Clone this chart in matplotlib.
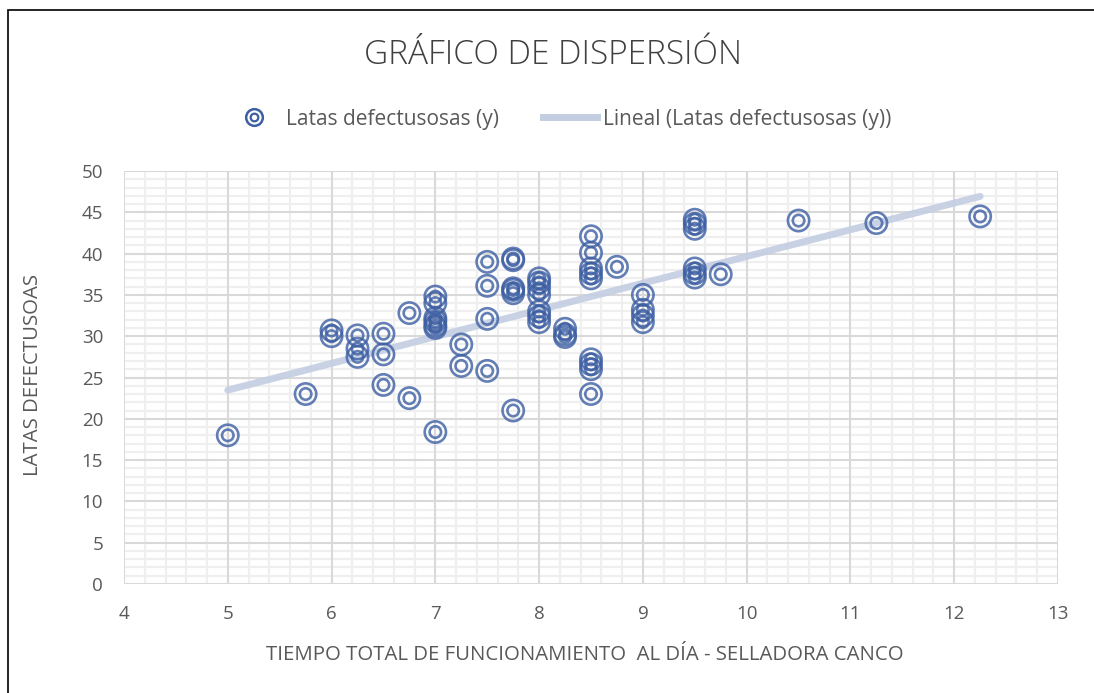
import numpy as np
import matplotlib
matplotlib.use("Agg")
import matplotlib.pyplot as plt
from matplotlib.lines import Line2D
from matplotlib.patches import Rectangle

# Data
tiempo = [5.0, 5.75, 6.0, 6.0, 6.25, 6.25, 6.25, 6.5, 6.5, 6.5, 6.75, 6.75,
          7.0, 7.0, 7.0, 7.0, 7.0, 7.0, 7.0, 7.25, 7.25,
          7.5, 7.5, 7.5, 7.5, 7.75, 7.75, 7.75, 7.75, 7.75, 7.75,
          8.0, 8.0, 8.0, 8.0, 8.0, 8.0, 8.0, 8.25, 8.25, 8.25,
          8.5, 8.5, 8.5, 8.5, 8.5, 8.5, 8.5, 8.5, 8.5, 8.75,
          9.0, 9.0, 9.0, 9.0, 9.5, 9.5, 9.5, 9.5, 9.5, 9.5, 9.75,
          10.5, 11.25, 12.25]
latas = [18.0, 23.0, 30.7, 30.0, 30.1, 28.5, 27.5, 30.3, 27.8, 24.1, 32.8, 22.5,
         34.8, 34.0, 32.2, 31.8, 31.3, 31.0, 18.4, 29.0, 26.4,
         39.0, 36.1, 32.1, 25.8, 39.4, 39.2, 35.8, 35.6, 35.2, 21.0,
         37.0, 36.5, 35.8, 35.0, 33.0, 32.4, 31.7, 30.9, 30.2, 29.9,
         42.1, 40.1, 38.2, 37.6, 37.0, 27.2, 26.6, 26.0, 23.0, 38.4,
         35.0, 33.2, 32.5, 31.7, 44.1, 43.6, 43.0, 38.2, 37.6, 37.1, 37.5,
         44.0, 43.7, 44.5]

x_ticks = [4, 5, 6, 7, 8, 9, 10, 11, 12, 13]
y_ticks = [0, 5, 10, 15, 20, 25, 30, 35, 40, 45, 50]

title = "GRÁFICO DE DISPERSIÓN"
serie_label = "Latas defectusosas (y)"
trend_label = "Lineal (Latas defectusosas (y))"
xlabel = "TIEMPO TOTAL DE FUNCIONAMIENTO  AL DÍA - SELLADORA CANCO"
ylabel = "LATAS DEFECTUSOAS"

FONT = ["Open Sans", "DejaVu Sans"]
plt.rcParams['font.family'] = FONT
TXT = "#595959"
MK = "#3d5fa3"
TREND = "#c3cee2"

fig = plt.figure(figsize=(10.94, 6.93), dpi=100)
ax = fig.add_axes([124/1094, 1 - 584/693, (1058-124)/1094, (584-171)/693])

ax.set_xlim(x_ticks[0], x_ticks[-1])
ax.set_ylim(y_ticks[0], y_ticks[-1])

# grid: minor first, major on top
minor_x = np.arange(x_ticks[0], x_ticks[-1] + 1e-9, 0.2)
minor_y = np.arange(y_ticks[0], y_ticks[-1] + 1e-9, 1.0)
for v in minor_x:
    ax.axvline(v, color='#efefef', lw=1.6, zorder=0.1)
for v in minor_y:
    ax.axhline(v, color='#efefef', lw=1.6, zorder=0.1)
for v in x_ticks:
    ax.axvline(v, color='#d9d9d9', lw=1.4, zorder=0.2)
for v in y_ticks:
    ax.axhline(v, color='#d9d9d9', lw=1.4, zorder=0.2)

for s in ax.spines.values():
    s.set_visible(False)
ax.tick_params(which='both', length=0)
ax.tick_params(axis='x', pad=15, labelsize=13.5, labelcolor=TXT)
ax.tick_params(axis='y', pad=15, labelsize=13.5, labelcolor=TXT)
ax.set_xticks(x_ticks)
ax.set_yticks(y_ticks)

# trend line
xa = np.array(tiempo)
ya = np.array(latas)
m, b = np.polyfit(xa, ya, 1)
xt = np.array([xa.min(), xa.max()])
ax.plot(xt, m*xt + b, color=TREND, lw=5, solid_capstyle='round', zorder=2, alpha=0.9)

# markers: double rings
ax.scatter(tiempo, latas, s=235, facecolors='none', edgecolors=MK, linewidths=1.9, alpha=0.8, zorder=3)
ax.scatter(tiempo, latas, s=68, facecolors='none', edgecolors=MK, linewidths=1.9, alpha=0.8, zorder=3)

ax.set_xlabel(xlabel, fontsize=14.7, color=TXT)
ax.set_ylabel(ylabel, fontsize=14.7, color=TXT)
ax.xaxis.set_label_coords((585 - 124) / (1058 - 124), -(655 - 584) / (584 - 171))
ax.yaxis.set_label_coords(-(124 - 33) / (1058 - 124), (584 - 375) / (584 - 171))
ax.xaxis.label.set_va('center')
ax.yaxis.label.set_va('center')

fig.text(553/1094, 1 - 55/693, title, ha='center', va='center', fontsize=24,
         color='#404040', fontweight='light')

# legend
h1 = Line2D([], [], ls='none', marker='o', markersize=12, markerfacecolor='none',
            markeredgecolor=MK, markeredgewidth=1.8)
h1b = Line2D([], [], ls='none', marker='o', markersize=5.5, markerfacecolor='none',
             markeredgecolor=MK, markeredgewidth=1.6)
h2 = Line2D([], [], color=TREND, lw=5)
leg = fig.legend([(h1, h1b), h2], [serie_label, trend_label], loc='center',
                 bbox_to_anchor=(559/1094, 1 - 119/693), ncol=2, frameon=False,
                 fontsize=15, labelcolor=TXT, handlelength=2.6, columnspacing=2.1,
                 handletextpad=0.25)

# outer border
fig.patches.append(Rectangle((8/1094, -0.05), 1.2, 1 - 10/693 + 0.05, transform=fig.transFigure,
                             fill=False, edgecolor='black', lw=1.2, zorder=10))

fig.savefig("out.png", dpi=100)
